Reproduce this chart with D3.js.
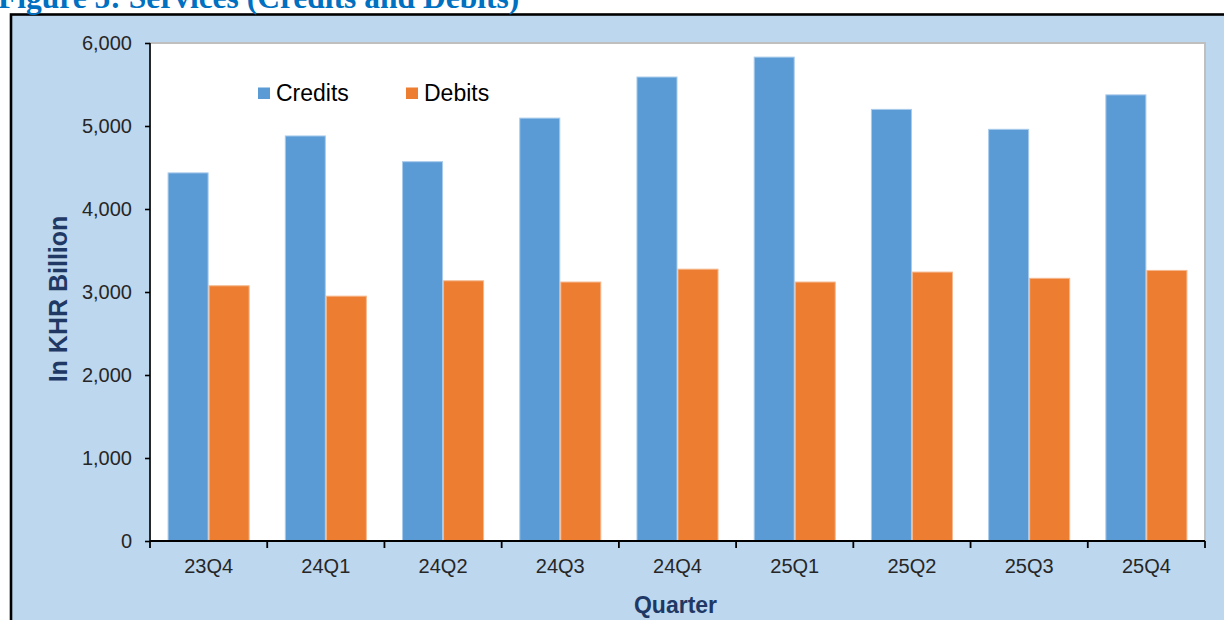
<!DOCTYPE html>
<html><head><meta charset="utf-8">
<script src="https://cdn.jsdelivr.net/npm/d3@7/dist/d3.min.js"></script>
<style>
html,body{margin:0;padding:0;background:#fff;}
svg{display:block;}
</style></head>
<body>
<svg id="chart" width="1224" height="620"></svg>
<script>
const categories = ["23Q4","24Q1","24Q2","24Q3","24Q4","25Q1","25Q2","25Q3","25Q4"];
const credits = [4435,4880,4570,5095,5590,5830,5200,4960,5375];
const debits  = [3075,2950,3135,3120,3275,3120,3240,3165,3260];
const seriesNames = ["Credits","Debits"];
const yTicks = [0,1000,2000,3000,4000,5000,6000];
const titleText = "Figure 5: Services (Credits and Debits)";
const xTitle = "Quarter";
const yTitle = "In KHR Billion";

const colors = {Credits:"#5B9BD5", Debits:"#ED7D31"};
const strokes = {Credits:"#A9CBEB", Debits:"#F5B88E"};
const svg = d3.select("#chart");
const W = 1224, H = 620;
const plot = {l:150, r:1205, t:43, b:541};

// outer frame
svg.append("rect").attr("x",0).attr("y",0).attr("width",W).attr("height",H).attr("fill","#fff");
svg.append("rect").attr("x",11).attr("y",14.5).attr("width",W+20).attr("height",H+20)
  .attr("fill","#BDD7EE").attr("stroke","#000").attr("stroke-width",2.6);

// title (partly above the top edge, as in the reference)
svg.append("text").attr("x",-2).attr("y",8)
  .attr("font-family","'Liberation Serif','DejaVu Serif',serif").attr("font-weight","bold")
  .attr("font-size",31.5).attr("fill","#0070C0").text(titleText);

// plot area
svg.append("rect").attr("x",plot.l).attr("y",plot.t).attr("width",plot.r-plot.l).attr("height",plot.b-plot.t)
  .attr("fill","#fff").attr("stroke","#BFBFBF").attr("stroke-width",2);

const x0 = d3.scaleBand().domain(categories).range([plot.l,plot.r]).paddingInner(0.3).paddingOuter(0.15);
const x1 = d3.scaleBand().domain(seriesNames).range([0,x0.bandwidth()]).padding(0);
const y = d3.scaleLinear().domain([0,6000]).range([plot.b,plot.t]);

const rows = categories.map((c,i)=>({cat:c, Credits:credits[i], Debits:debits[i]}));
const g = svg.append("g");
g.selectAll("g.grp").data(rows).join("g").attr("class","grp")
  .attr("transform",d=>`translate(${x0(d.cat)},0)`)
  .selectAll("rect").data(d=>seriesNames.map(s=>({s, v:d[s]}))).join("rect")
  .attr("x",d=>x1(d.s)+0.5).attr("width",x1.bandwidth()-1)
  .attr("y",d=>y(d.v)).attr("height",d=>plot.b-y(d.v))
  .attr("fill",d=>colors[d.s]).attr("stroke",d=>strokes[d.s]).attr("stroke-width",1);

// y axis
const yAxis = svg.append("g").attr("transform",`translate(${plot.l},0)`)
  .call(d3.axisLeft(y).tickValues(yTicks).tickSize(5).tickPadding(13).tickFormat(d3.format(",")));
yAxis.select(".domain").attr("stroke","#000").attr("stroke-width",1.6).attr("d",`M0,${plot.t}V${plot.b}`);
yAxis.selectAll(".tick line").attr("stroke","#000").attr("stroke-width",1.6);
yAxis.selectAll(".tick text").attr("font-family","'Liberation Sans',Arial,sans-serif")
  .attr("font-size",20).attr("fill","#262626");

// x axis
const xAxis = svg.append("g").attr("transform",`translate(0,${plot.b})`)
  .call(d3.axisBottom(x0).tickSize(0).tickPadding(18));
xAxis.select(".domain").attr("stroke","#000").attr("stroke-width",1.8).attr("d",`M${plot.l},0H${plot.r}`);
xAxis.selectAll(".tick text").attr("font-family","'Liberation Sans',Arial,sans-serif")
  .attr("font-size",20).attr("fill","#262626");
const bounds = categories.map(c=>x0(c)-x0.step()*x0.paddingInner()/2);
bounds.push(x0(categories[categories.length-1])+x0.bandwidth()+x0.step()*x0.paddingInner()/2);
xAxis.selectAll("line.bt").data(bounds).join("line").attr("class","bt")
  .attr("x1",d=>d).attr("x2",d=>d).attr("y1",0).attr("y2",7)
  .attr("stroke","#000").attr("stroke-width",1.8);

// axis titles
svg.append("text").attr("x",(plot.l+plot.r)/2-2).attr("y",613).attr("text-anchor","middle")
  .attr("font-family","'Liberation Sans',Arial,sans-serif").attr("font-weight","bold")
  .attr("font-size",23).attr("fill","#1F3864").text(xTitle);
svg.append("text").attr("transform","translate(67,299) rotate(-90)").attr("text-anchor","middle")
  .attr("font-family","'Liberation Sans',Arial,sans-serif").attr("font-weight","bold")
  .attr("font-size",25).attr("fill","#1F3864").text(yTitle);

// legend
const legX = [258, 406];
const leg = svg.append("g");
seriesNames.forEach((s,i)=>{
  leg.append("rect").attr("x",legX[i]).attr("y",87.5).attr("width",12).attr("height",11.5).attr("fill",colors[s]);
  leg.append("text").attr("x",legX[i]+18).attr("y",101)
    .attr("font-family","'Liberation Sans',Arial,sans-serif").attr("font-size",23).attr("fill","#000").text(s);
});
</script>
</body></html>
